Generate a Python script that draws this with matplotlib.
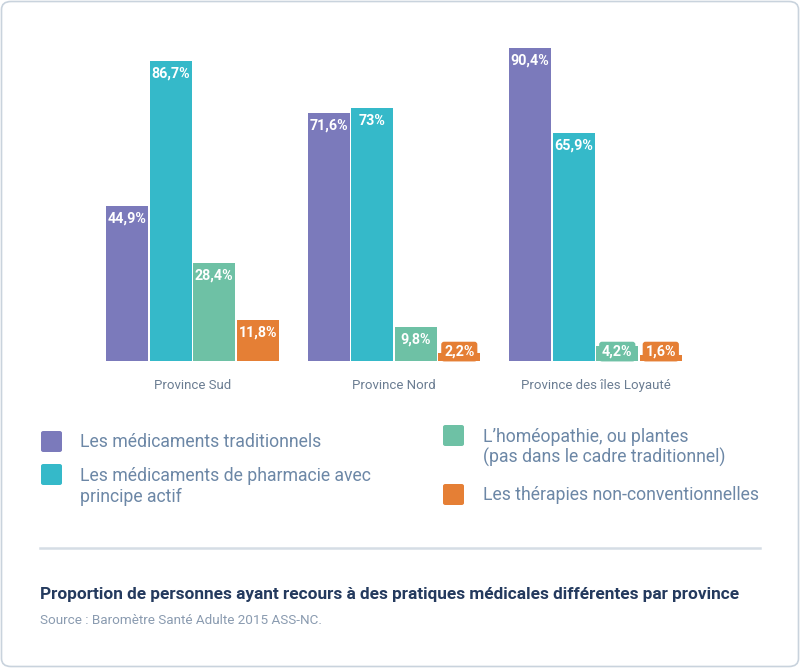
import numpy as np
import matplotlib
matplotlib.use("Agg")
import matplotlib.pyplot as plt
from matplotlib.patches import FancyBboxPatch
from matplotlib.lines import Line2D

provinces = ["Province Sud", "Province Nord", "Province des îles Loyauté"]
series = [
    "Les médicaments traditionnels",
    "Les médicaments de pharmacie avec\nprincipe actif",
    "L’homéopathie, ou plantes\n(pas dans le cadre traditionnel)",
    "Les thérapies non-conventionnelles",
]
traditionnels = [44.9, 71.6, 90.4]
pharmacie = [86.7, 73.0, 65.9]
homeopathie = [28.4, 9.8, 4.2]
therapies = [11.8, 2.2, 1.6]
values = [traditionnels, pharmacie, homeopathie, therapies]
colors = ["#7B7ABB", "#35B9C9", "#6EC1A5", "#E57F35"]

title = "Proportion de personnes ayant recours à des pratiques médicales différentes par province"
source = "Source : Baromètre Santé Adulte 2015 ASS-NC."

plt.rcParams['font.family'] = ['Roboto', 'DejaVu Sans']

W, H = 800, 668
fig = plt.figure(figsize=(W / 100, H / 100), dpi=100)


def fx(x):
    return x / W


def fy(y):
    return 1 - y / H


# outer rounded frame
fig.patches.append(FancyBboxPatch((fx(1.5), fy(666.5)), fx(797), 665 / H,
                                  boxstyle="round,pad=0,rounding_size=0.012",
                                  transform=fig.transFigure, facecolor="none",
                                  edgecolor="#C9D3DD", linewidth=1.2))

ax = fig.add_axes([fx(91.75), fy(361), fx(604.5), 346 / H])
ax.set_facecolor("none")
x = np.arange(len(provinces))
width = 0.208
step = 0.216
for i, (vals, col) in enumerate(zip(values, colors)):
    offs = (i - 1.5) * step
    bars = ax.bar(x + offs, vals, width, color=col, linewidth=0)
    for b, v in zip(bars, vals):
        lbl = f"{v:g}".replace(".", ",") + "%"
        cx = b.get_x() + b.get_width() / 2
        if v < 5:
            # too short for an inside label: label box in the bar colour
            ax.text(cx, 0.7, lbl, ha="center", va="bottom", color="white",
                    fontsize=10.3, fontweight="bold",
                    bbox=dict(boxstyle="round,pad=0.2,rounding_size=0.2",
                              facecolor=col, edgecolor="none"))
        else:
            ax.annotate(lbl, (cx, v), xytext=(0, -4), textcoords="offset points",
                        ha="center", va="top", color="white",
                        fontsize=10.3, fontweight="bold")

ax.set_xlim(-0.5, 2.5)
ax.set_ylim(0, 100)
ax.set_xticks(x)
ax.set_xticklabels(provinces, fontsize=9.5, color="#6B7D92")
ax.tick_params(axis="x", length=0, pad=13)
ax.set_yticks([])
for s in ax.spines.values():
    s.set_visible(False)

# legend
legend_pos = [(41, 431, 80, [442]), (41, 464, 80, [476, 497]),
              (443, 425, 483, [437, 457]), (443, 484, 483, [495])]
for (sx, sy, tx, ty), col, name in zip(legend_pos, colors, series):
    fig.patches.append(FancyBboxPatch((fx(sx), fy(sy + 21)), fx(21), 21 / H,
                                      boxstyle="round,pad=0,rounding_size=0.003",
                                      transform=fig.transFigure, facecolor=col,
                                      edgecolor="none"))
    for line, yy in zip(name.split("\n"), ty):
        fig.text(fx(tx), fy(yy), line, ha="left", va="center",
                 fontsize=12.7, color="#6C87A6")

# divider
fig.add_artist(Line2D([fx(40), fx(760)], [fy(548), fy(548)], color="#D5DDE5",
                      linewidth=1.8, transform=fig.transFigure))

fig.text(fx(40), fy(594), title, ha="left", va="center", fontsize=12.4,
         fontweight="bold", color="#243A5E")
fig.text(fx(40), fy(621), source, ha="left", va="center", fontsize=9.7,
         color="#8A9BB0")

fig.savefig("out.png", dpi=100)
